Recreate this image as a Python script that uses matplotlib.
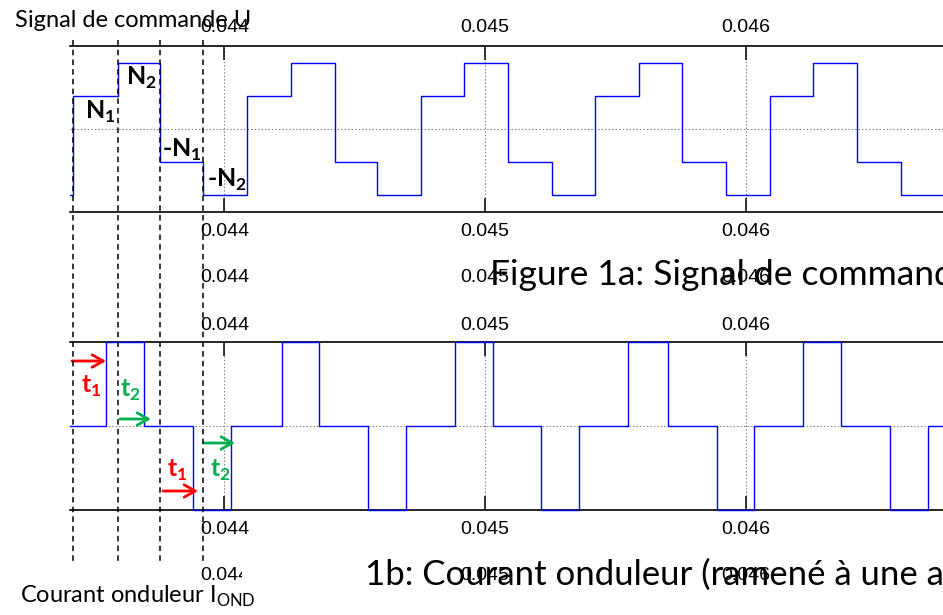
import matplotlib
matplotlib.use('Agg')
import matplotlib.pyplot as plt
import matplotlib.transforms as mtransforms
from matplotlib.lines import Line2D
from matplotlib.patches import Rectangle
import numpy as np

plt.rcParams['lines.scale_dashes'] = False
plt.rcParams['mathtext.fontset'] = 'custom'
plt.rcParams['mathtext.rm'] = 'Lato'
plt.rcParams['mathtext.bf'] = 'Lato:bold'

# Signal de commande U : instants de commutation (s) et niveaux (N1 = 1, N2 = 2)
t_cmd = [0.043419, 0.043592, 0.043753, 0.043918, 0.044086, 0.044255, 0.044424,
         0.044586, 0.044755, 0.044918, 0.045088, 0.045257, 0.045421, 0.045589,
         0.045753, 0.045923, 0.046091, 0.046255, 0.046424, 0.046594]
u_cmd = [1, 2, -1, -2] * 5
u_start = -2

# Courant onduleur (ramené à une amplitude unitaire)
t_ond = [0.043546, 0.043692, 0.043879, 0.044025, 0.044221, 0.044362, 0.044550,
         0.044696, 0.044883, 0.045028, 0.045215, 0.045360, 0.045548, 0.045699,
         0.045887, 0.046031, 0.046219, 0.046364, 0.046552, 0.046696]
i_ond = [1, 0, -1, 0] * 5
i_start = 0

x_ticks = [0.044, 0.045, 0.046]
x_lim = (0.043408, 0.046755)

W, H = 943, 615


def fx(px):
    return px / W


def fy(py):
    return 1 - py / H


fig = plt.figure(figsize=(W / 100, H / 100), dpi=100)
fig.patch.set_facecolor('white')

ax1 = fig.add_axes([fx(70), fy(212), 1 - fx(70), (212 - 46) / H])
ax2 = fig.add_axes([fx(70), fy(510), 1 - fx(70), (510 - 342) / H])

ax1.step(np.r_[x_lim[0], t_cmd, x_lim[1]], np.r_[u_start, u_cmd, u_cmd[-1]],
         where='post', color='#0000ff', lw=1.0, zorder=3)
ax2.step(np.r_[x_lim[0], t_ond, x_lim[1]], np.r_[i_start, i_ond, i_ond[-1]],
         where='post', color='#0000ff', lw=1.0, zorder=3, clip_on=False)

for ax, ylim in [(ax1, (-2.5, 2.5)), (ax2, (-1.0, 1.0))]:
    ax.set_xlim(x_lim)
    ax.set_ylim(ylim)
    ax.set_xticks(x_ticks)
    ax.set_yticks([0])
    ax.tick_params(axis='x', direction='in', length=10, width=1.1, top=True,
                   bottom=True, labelbottom=False, labeltop=False, color='k')
    ax.tick_params(axis='y', length=0, labelleft=False)
    ax.grid(True, color='#808080', lw=0.8, ls=(0, (1, 1.5)))
    for side in ['left', 'right']:
        ax.spines[side].set_visible(False)
    for side in ['top', 'bottom']:
        ax.spines[side].set_linewidth(1.2)
    ax.set_facecolor('none')

# lignes verticales pointillées aux commutations du premier quart de période
blend = mtransforms.blended_transform_factory(ax1.transData, fig.transFigure)
for t in t_cmd[:4]:
    fig.add_artist(Line2D([t, t], [fy(40), fy(562)], transform=blend, color='k',
                          lw=1.1, dashes=(4, 3), zorder=4))

# rangées d'étiquettes de l'axe des temps
label_rows = [27, 232, 278, 325, 530, 575]
for row in label_rows:
    for x in x_ticks:
        fig.text(x, fy(row), f'{x:.3f}', transform=blend, ha='center', va='center',
                 family='Liberation Sans', fontsize=14, zorder=3)
fig.add_artist(Rectangle((fx(242), fy(586)), fx(22), 22 / H, transform=fig.transFigure,
                         facecolor='white', edgecolor='none', zorder=5))

# légendes et annotations
cap = dict(family='Lato', color='k')
fig.text(fx(15), fy(27), 'Signal de commande U', fontsize=17, va='baseline', **cap)
fig.text(fx(20), fy(603), r'Courant onduleur I$_{\mathrm{OND}}$', fontsize=17,
         va='baseline', **cap)
fig.text(fx(490), fy(285), 'Figure 1a: Signal de commande U', fontsize=25.5,
         va='baseline', **cap)
fig.text(fx(365), fy(585), '1b: Courant onduleur (ramené à une amplitude unitaire)',
         fontsize=25, va='baseline', **cap)

lvl = dict(family='Lato', fontweight='bold', fontsize=18, va='baseline', zorder=6)
fig.text(fx(85), fy(119), r'N$_{\mathbf{1}}$', **lvl)
fig.text(fx(126), fy(85), r'N$_{\mathbf{2}}$', **lvl)
fig.text(fx(162), fy(157), r'-N$_{\mathbf{1}}$', **lvl)
fig.text(fx(207), fy(187), r'-N$_{\mathbf{2}}$', **lvl)

red, green = '#ff0000', '#00b050'
tl = dict(family='Lato', fontweight='bold', fontsize=18, va='baseline', zorder=6)
fig.text(fx(81), fy(393), r't$_{\mathbf{1}}$', color=red, **tl)
fig.text(fx(120), fy(397), r't$_{\mathbf{2}}$', color=green, **tl)
fig.text(fx(167), fy(477), r't$_{\mathbf{1}}$', color=red, **tl)
fig.text(fx(210), fy(477), r't$_{\mathbf{2}}$', color=green, **tl)

arrows = [((72, 361), (106, 361), red), ((120, 419), (151, 419), green),
          ((163, 491), (198, 491), red), ((204, 443), (235, 443), green)]
for (x0, y0), (x1, y1), c in arrows:
    ax2.annotate('', xy=(fx(x1), fy(y1)), xytext=(fx(x0), fy(y0)),
                 xycoords='figure fraction', textcoords='figure fraction',
                 annotation_clip=False,
                 arrowprops=dict(arrowstyle='->,head_length=0.8,head_width=0.45',
                                 mutation_scale=10, lw=2.0, color=c,
                                 shrinkA=0, shrinkB=0))

plt.savefig('out.png', dpi=100, facecolor='white')
